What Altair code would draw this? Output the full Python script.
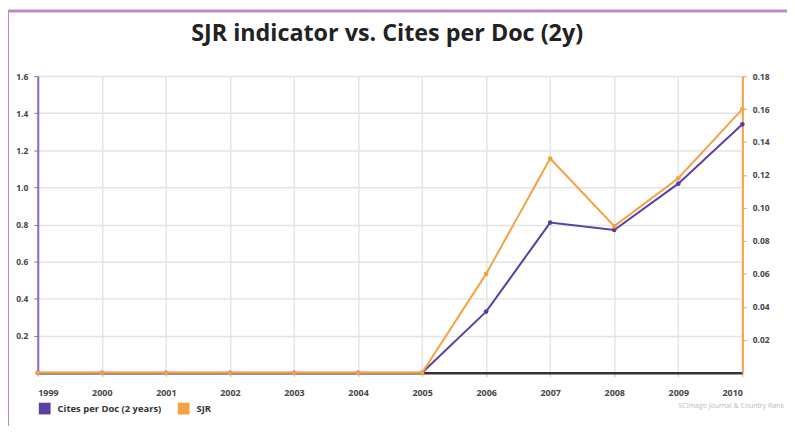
import altair as alt
import pandas as pd

years = [1999, 2000, 2001, 2002, 2003, 2004, 2005, 2006, 2007, 2008, 2009, 2010]
cites = [0, 0, 0, 0, 0, 0, 0, 0.33, 0.81, 0.77, 1.02, 1.34]
sjr = [0, 0, 0, 0, 0, 0, 0, 0.060, 0.130, 0.089, 0.118, 0.160]
series_names = ["Cites per Doc (2 years)", "SJR"]
series_colors = ["#5b3fa3", "#f5a243"]
left_ticks = [0.2, 0.4, 0.6, 0.8, 1.0, 1.2, 1.4, 1.6]
right_ticks = [0.02, 0.04, 0.06, 0.08, 0.10, 0.12, 0.14, 0.16, 0.18]
title_text = "SJR indicator vs. Cites per Doc (2y)"
watermark = "SCImago Journal & Country Rank"

df_c = pd.DataFrame({"year": years, "value": cites, "series": series_names[0]})
df_s = pd.DataFrame({"year": years, "value": sjr, "series": series_names[1]})

W, H = 710, 299

color = alt.Color(
    "series:N",
    scale=alt.Scale(domain=series_names, range=series_colors),
    legend=alt.Legend(
        title=None, orient="none", legendX=1, legendY=329, direction="horizontal",
        symbolType="square", symbolSize=140, symbolStrokeWidth=0, symbolOpacity=1,
        labelFontSize=9.5, labelColor="#333", labelFont="Open Sans", labelFontWeight="bold",
        columnPadding=16, labelOffset=7,
    ),
)

x = alt.X(
    "year:Q",
    scale=alt.Scale(domain=[1999, 2010], nice=False, zero=False),
    axis=alt.Axis(
        title=None, values=years, format="d", domainColor="#3a3030", domainWidth=2.5,
        tickColor="#bbb", tickSize=4, labelFontSize=9, labelFont="Open Sans",
        labelFontWeight="bold", labelColor="#444", labelPadding=12, labelOverlap=False,
        grid=True, gridColor="#e6e6e6", gridWidth=1.5,
    ),
)

y_left = alt.Y(
    "value:Q",
    scale=alt.Scale(domain=[0, 1.6], nice=False),
    axis=alt.Axis(
        title=None, values=left_ticks, format=".1f", orient="left",
        domainColor="#8868c0", domainWidth=2, tickColor="#8868c0", tickSize=4,
        labelFontSize=8.5, labelFont="Open Sans", labelFontWeight="bold",
        labelColor="#444", labelPadding=6, labelOverlap=False,
        grid=True, gridColor="#e3e3e3", gridWidth=1.5,
    ),
)
y_right = alt.Y(
    "value:Q",
    scale=alt.Scale(domain=[0, 0.18], nice=False),
    axis=alt.Axis(
        title=None, values=right_ticks, format=".2f", orient="right",
        domainColor="#f5a243", domainWidth=2, tickColor="#f5a243", tickSize=4,
        labelFontSize=8.5, labelFont="Open Sans", labelFontWeight="bold",
        labelColor="#444", labelPadding=6, labelOverlap=False, grid=False,
    ),
)

base_c = alt.Chart(df_c)
line_c = base_c.mark_line(strokeWidth=2).encode(x=x, y=y_left, color=color)
pts_c = base_c.mark_point(filled=True, size=22, opacity=1).encode(x=x, y=y_left, color=color)

base_s = alt.Chart(df_s)
line_s = base_s.mark_line(strokeWidth=2).encode(x=x, y=y_right, color=color)
pts_s = base_s.mark_point(filled=True, size=22, opacity=1).encode(x=x, y=y_right, color=color)

left_layer = alt.layer(line_c, pts_c)
right_layer = alt.layer(line_s, pts_s)

frame_df = pd.DataFrame({"k": [0]})
frame_left = alt.Chart(frame_df).mark_rule(color="#b98ac9", strokeWidth=3).encode(
    x=alt.value(-30.5), y=alt.value(-66), y2=alt.value(H + 80)
)
frame_top = alt.Chart(frame_df).mark_rule(color="#b98ac9", strokeWidth=3).encode(
    x=alt.value(-32), x2=alt.value(W + 60), y=alt.value(-65.5)
)
wm = alt.Chart(frame_df).mark_text(
    text=watermark, align="right", fontSize=7, color="#bbb", font="Open Sans"
).encode(x=alt.value(752), y=alt.value(33 + H))
title = alt.Chart(frame_df).mark_text(
    text=title_text, align="center", baseline="middle", fontSize=23.5,
    font="Open Sans", fontWeight="bold", color="#222"
).encode(x=alt.value(352), y=alt.value(-42))

chart = alt.layer(
    left_layer, right_layer, frame_left, frame_top, wm, title
).resolve_scale(y="independent").properties(
    width=W, height=H,
    padding={"left": 30, "top": 67, "right": 45, "bottom": 52},
    autosize=alt.AutoSizeParams(type="none"),
).configure_view(stroke=None).configure(background="white")

chart.save("out.html", embed_options={"renderer": "svg", "actions": False})
